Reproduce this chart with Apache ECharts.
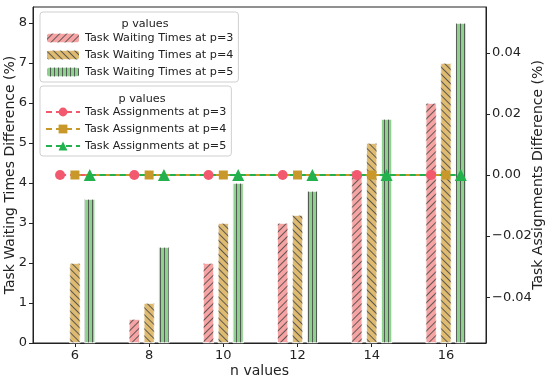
<!DOCTYPE html>
<html>
<head>
<meta charset="utf-8">
<script src="https://cdn.jsdelivr.net/npm/echarts@6/dist/echarts.min.js"></script>
<style>
	html, body { margin: 0; padding: 0; background: #fff; }
	#chart { width: 550px; height: 380px; }
</style>
</head>
<body>
<div id="chart"></div>
<script>
// n values on the x axis
const nValues = [6, 8, 10, 12, 14, 16];
// task waiting times difference (%) per p
const waitP3 = [0, 0.6, 2.0, 3.0, 4.3, 6.0];
const waitP4 = [2.0, 1.0, 3.0, 3.2, 5.0, 7.0];
const waitP5 = [3.6, 2.4, 4.0, 3.8, 5.6, 8.0];
// task assignments difference (%) per p
const assignP3 = [0, 0, 0, 0, 0, 0];
const assignP4 = [0, 0, 0, 0, 0, 0];
const assignP5 = [0, 0, 0, 0, 0, 0];
// tick labels
const leftTicks = [0, 1, 2, 3, 4, 5, 6, 7, 8];
const rightTicks = [-0.04, -0.02, 0, 0.02, 0.04];

const FONT = 'DejaVu Sans';
const off = 0.4; // group offset in n units
const INK = '#222';

const pair = (vals, dx) => vals.map((v, i) => [nValues[i] + dx, v]);

const hatch = (rot, dx, dy) => ({
	symbol: 'rect',
	symbolSize: 1,
	color: 'rgba(70,70,70,0.85)',
	dashArrayX: dx,
	dashArrayY: dy,
	rotation: rot
});

const barSeries = (name, vals, dx, fill, decal) => ({
	name: name,
	type: 'bar',
	xAxisIndex: 0,
	yAxisIndex: 0,
	barWidth: 11,
	barGap: '-100%',
	itemStyle: { color: fill, borderColor: '#fff', borderWidth: 0.6, decal: decal },
	data: pair(vals, dx).filter(d => d[1] > 0)
});

const lineSeries = (name, vals, dx, color, symbol, size) => ({
	name: name,
	type: 'line',
	xAxisIndex: 0,
	yAxisIndex: 1,
	symbol: symbol,
	symbolSize: size,
	z: 5,
	lineStyle: { color: color, width: 2, type: [6, 4] },
	itemStyle: { color: color },
	data: pair(vals, dx)
});

const legendBox = (top, names, padTop) => ({
	left: 40, top: top, orient: 'vertical',
	padding: [padTop, 5, 3, 5],
	itemGap: 3, itemWidth: 34, itemHeight: 11, itemTextGap: 9,
	borderColor: '#cfcfcf', borderWidth: 1, borderRadius: 3,
	backgroundColor: 'rgba(255,255,255,0.85)',
	textStyle: { fontFamily: FONT, fontSize: 11.2, color: INK, lineHeight: 14 },
	data: names
});

const boxTitle = (x, top) => ({
	text: 'p values', left: x, top: top, textAlign: 'center',
	textStyle: { fontFamily: FONT, fontSize: 11.2, fontWeight: 'normal', color: INK }
});

const chart = echarts.init(document.getElementById('chart'), null, { renderer: 'canvas' });

const option = {
	animation: false,
	textStyle: { fontFamily: FONT },
	grid: {
		left: 33, right: 64, top: 7, bottom: 37,
		outerBoundsMode: 'none',
		show: true, borderColor: INK, borderWidth: 1
	},
	title: [boxTitle(140, 14), boxTitle(137, 89)],
	legend: [
		legendBox(12, ['Task Waiting Times at p=3', 'Task Waiting Times at p=4', 'Task Waiting Times at p=5'], 19),
		legendBox(86, ['Task Assignments at p=3', 'Task Assignments at p=4', 'Task Assignments at p=5'], 19)
	],
	xAxis: {
		type: 'value',
		min: 4.87, max: 17.08,
		name: 'n values', nameLocation: 'middle', nameGap: 21, nameMoveOverlap: false,
		nameTextStyle: { fontFamily: FONT, fontSize: 14, color: INK },
		axisLine: { lineStyle: { color: INK } },
		axisTick: { customValues: nValues, length: 4, lineStyle: { color: INK } },
		axisLabel: { customValues: nValues, fontSize: 13, color: INK, margin: 6 },
		splitLine: { show: false }
	},
	yAxis: [
		{
			type: 'value', min: 0, max: 8.4, position: 'left',
			name: 'Task Waiting Times Difference (%)', nameLocation: 'middle', nameGap: 16,
			nameMoveOverlap: false,
			nameTextStyle: { fontFamily: FONT, fontSize: 14, color: INK },
			axisLine: { show: true, lineStyle: { color: INK } },
			axisTick: { show: true, customValues: leftTicks, length: 4, lineStyle: { color: INK } },
			axisLabel: { customValues: leftTicks, fontSize: 13, color: INK, margin: 6 },
			splitLine: { show: false }
		},
		{
			type: 'value', min: -0.055, max: 0.055, position: 'right',
			name: 'Task Assignments Difference (%)', nameLocation: 'middle', nameGap: 45,
			nameMoveOverlap: false,
			nameTextStyle: { fontFamily: FONT, fontSize: 14, color: INK },
			axisLine: { show: true, lineStyle: { color: INK } },
			axisTick: { show: true, customValues: rightTicks, length: 4, lineStyle: { color: INK } },
			axisLabel: {
				customValues: rightTicks, fontSize: 13, color: INK, margin: 6,
				formatter: v => v.toFixed(2).replace('-', '\u2212')
			},
			splitLine: { show: false }
		}
	],
	series: [
		barSeries('Task Waiting Times at p=3', waitP3, -off, '#f5a3a3',
			hatch(-Math.PI / 4, [1, 0], [1, 4])),
		barSeries('Task Waiting Times at p=4', waitP4, 0, '#dfbb72',
			hatch(Math.PI / 4, [1, 0], [1, 4])),
		barSeries('Task Waiting Times at p=5', waitP5, off, '#8ed18e',
			hatch(0, [1, 2.8], [1, 0])),
		lineSeries('Task Assignments at p=3', assignP3, -off, '#f2596e', 'circle', 10),
		lineSeries('Task Assignments at p=4', assignP4, 0, '#c9982a', 'rect', 9),
		lineSeries('Task Assignments at p=5', assignP5, off, '#22b14c', 'triangle', 12)
	]
};

chart.setOption(option);
</script>
</body>
</html>
